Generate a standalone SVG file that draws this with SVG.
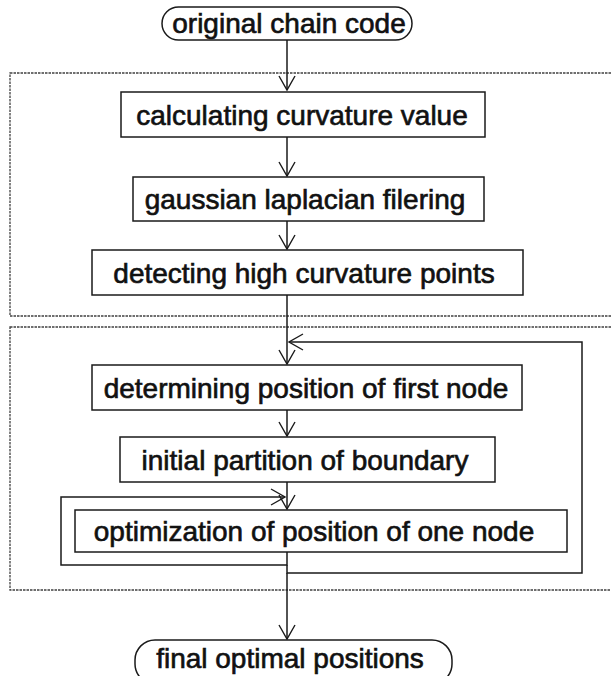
<svg xmlns="http://www.w3.org/2000/svg" width="611" height="676" viewBox="0 0 611 676">
  <style>
    .box { fill: #ffffff; stroke: #1a1a1a; stroke-width: 1.5; }
    .grp { fill: none; stroke: #404040; stroke-width: 1.3; stroke-dasharray: 2.5 1; }
    .lbl { font-family: "Liberation Sans", Arial, sans-serif; font-size: 28px; fill: #111; stroke: #111; stroke-width: 0.65; text-anchor: middle; }
    .edge { fill: none; stroke: #1a1a1a; stroke-width: 1.5; }
  </style>
  <defs>
    <marker id="vhead" viewBox="-15 -10 17 20" refX="0" refY="0" markerWidth="17" markerHeight="20" markerUnits="userSpaceOnUse" orient="auto">
      <path d="M-14,-8 L0,0 L-14,8" fill="none" stroke="#1a1a1a" stroke-width="1.4"/>
    </marker>
  </defs>

  <!-- processing stages (dashed frames, right side runs past the page edge) -->
  <g id="stage-detection">
    <rect class="grp" x="10" y="73" width="606" height="243"/>
  </g>
  <g id="stage-optimization">
    <rect class="grp" x="10" y="327" width="606" height="263"/>
  </g>

  <!-- connectors -->
  <g id="connectors">
    <path class="edge" d="M287,40 V90" marker-end="url(#vhead)"/>
    <path class="edge" d="M287,137 V176" marker-end="url(#vhead)"/>
    <path class="edge" d="M287,221 V249" marker-end="url(#vhead)"/>
    <path class="edge" d="M287,295 V364" marker-end="url(#vhead)"/>
    <path class="edge" d="M287,410 V436" marker-end="url(#vhead)"/>
    <path class="edge" d="M287,482 V509" marker-end="url(#vhead)"/>
    <!-- inner iteration loop -->
    <path class="edge" d="M287,552 V565 H61 V497 H285" marker-end="url(#vhead)"/>
    <!-- outer iteration loop -->
    <path class="edge" d="M287,565 V573 H582 V342 H289" marker-end="url(#vhead)"/>
    <path class="edge" d="M287,573 V639" marker-end="url(#vhead)"/>
  </g>

  <g id="start">
    <rect class="box" x="162" y="7" width="250" height="33" rx="16.5"/>
    <text class="lbl" x="289" y="33">original chain code</text>
  </g>
  <g id="curvature">
    <rect class="box" x="121" y="92" width="364" height="45"/>
    <text class="lbl" x="302" y="125">calculating curvature value</text>
  </g>
  <g id="filtering">
    <rect class="box" x="133" y="177" width="351" height="44"/>
    <text class="lbl" x="305" y="209">gaussian laplacian filering</text>
  </g>
  <g id="high-curvature">
    <rect class="box" x="92" y="250" width="431" height="45"/>
    <text class="lbl" x="304" y="283">detecting high curvature points</text>
  </g>
  <g id="first-node">
    <rect class="box" x="92" y="365" width="430" height="45"/>
    <text class="lbl" x="306" y="398">determining position of first node</text>
  </g>
  <g id="partition">
    <rect class="box" x="120" y="437" width="375" height="45"/>
    <text class="lbl" x="305" y="470">initial partition of boundary</text>
  </g>
  <g id="optimize-node">
    <rect class="box" x="75" y="510" width="492" height="42"/>
    <text class="lbl" x="314" y="541">optimization of position of one node</text>
  </g>
  <g id="result">
    <rect class="box" x="135" y="640" width="317" height="44" rx="20"/>
    <text class="lbl" x="290" y="668">final optimal positions</text>
  </g>
</svg>
